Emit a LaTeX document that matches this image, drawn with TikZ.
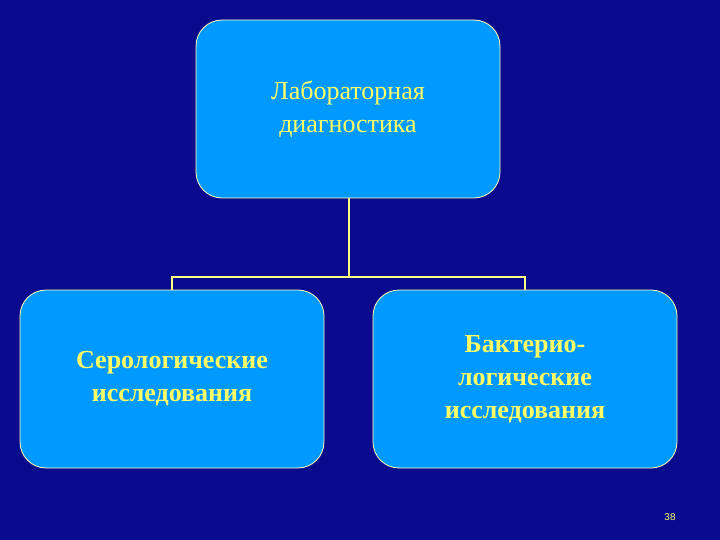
\documentclass[tikz,border=0pt]{standalone}
\usepackage{fontspec}
\setmainfont{Liberation Serif}
\newfontfamily\numfont{Liberation Sans}
\definecolor{bg}{HTML}{0A0A8E}
\definecolor{boxfill}{HTML}{0099FF}
\definecolor{txt}{HTML}{FFFF66}
\definecolor{line}{HTML}{FFFF80}
\begin{document}
\begin{tikzpicture}[x=1pt,y=-1pt,
  box/.style={draw=line!60!white,line width=0.8pt,fill=boxfill,rounded corners=26pt,
    minimum width=304pt,minimum height=178pt,text=txt,font=\fontsize{26}{33}\selectfont,align=center},
  conn/.style={draw=line,line width=1.5pt}]
\fill[bg] (0,0) rectangle (720,540);
\useasboundingbox (0,0) rectangle (720,540);
\node[box] (top) at (348,109) {Лабораторная\\диагностика};
\node[box,font=\bfseries\fontsize{26}{33}\selectfont] (left) at (172,379) {Серологические\\исследования};
\node[box,font=\bfseries\fontsize{26}{33}\selectfont] (right) at (525,379) {Бактерио-\\логические\\исследования};
\coordinate (j) at (349,277);
\draw[conn] (top.south -| j) -- (j);
\draw[conn] (left.north) |- (j) -| (right.north);
\node[text=txt,font=\numfont\fontsize{10}{12}\selectfont] (num) at (670,517) {38};
\end{tikzpicture}
\end{document}
